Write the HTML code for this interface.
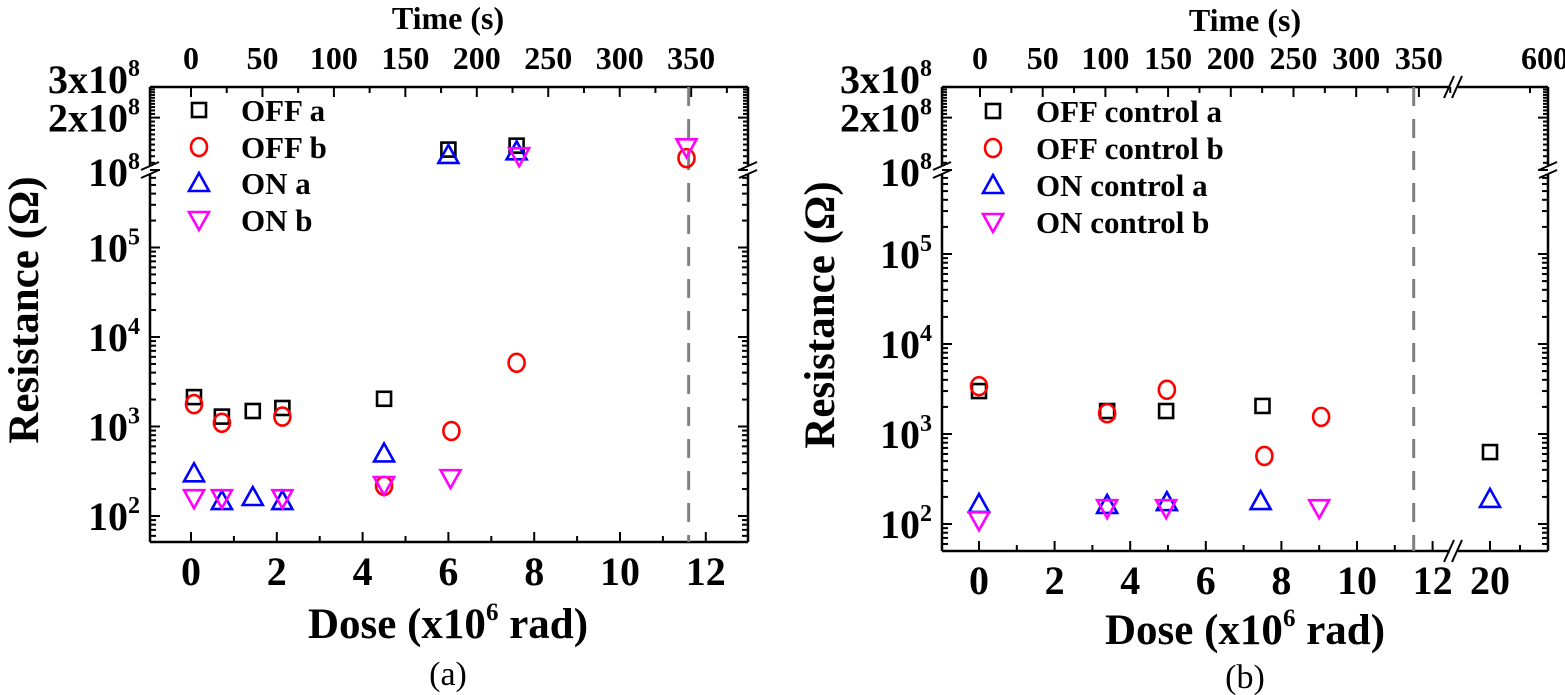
<!DOCTYPE html>
<html><head><meta charset="utf-8"><style>
html,body{margin:0;padding:0;background:#fff;}
svg{display:block;font-family:"Liberation Serif",serif;font-weight:bold;}
</style></head><body>
<svg id="c" width="1565" height="695" viewBox="0 0 1565 695" xmlns="http://www.w3.org/2000/svg"></svg>
<script>
// Panel (a) data: dose (x10^6 rad), resistance (ohm)
const aOffADose=[0.07,0.72,1.44,2.13,4.5,6.0,7.59];
const aOffARes=[2130,1290,1490,1610,2040,1.31e8,1.38e8];
const aOffBDose=[0.07,0.72,2.13,4.5,6.07,7.59,11.55];
const aOffBRes=[1780,1100,1290,217,890,5150,1.17e8];
const aOnADose=[0.07,0.72,1.44,2.13,4.5,6.0,7.59];
const aOnARes=[300,147,163,147,500,1.22e8,1.28e8];
const aOnBDose=[0.07,0.72,2.13,4.5,6.05,7.65,11.55];
const aOnBRes=[158,158,158,222,265,1.2e8,1.35e8];
// Panel (b) data
const bOffADose=[0,3.39,4.95,7.5,20];
const bOffARes=[3000,1800,1800,2050,630];
const bOffBDose=[0,3.39,4.97,7.55,9.05];
const bOffBRes=[3400,1700,3100,570,1550];
const bOnADose=[0,3.39,4.97,7.45,20];
const bOnARes=[167,163,175,180,190];
const bOnBDose=[0,3.39,4.95,9.0];
const bOnBRes=[110,150,150,150];
const doseTicksA=[0,2,4,6,8,10,12];
const doseTicksB=[0,2,4,6,8,10,12,20];
const timeTicksA=[0,50,100,150,200,250,300,350];
const timeTicksB=[0,50,100,150,200,250,300,350,600];

const NS="http://www.w3.org/2000/svg";
const svg=document.getElementById('c');
function el(tag,attrs,parent){const e=document.createElementNS(NS,tag);for(const k in attrs)e.setAttribute(k,attrs[k]);(parent||svg).appendChild(e);return e;}

const P={
 a:{L:150,R:748,T:87,B:542,brk:170,x0:191,kx:42.9,t0:191,kt:1.429,y2:516,ky:89.5,dash:11.6,cx:448},
 b:{L:942,R:1548,T:87,B:551,brk:170,x0:979,kx:37.8,t0:980,kt:1.254,y2:524,ky:90,dash:11.5,cx:1245,xbrk:1454}
};
function X(p,d){ if(p.xbrk && d>15) return 1490+(d-20)*30; return p.x0+d*p.kx; }
function T(p,t){ if(p.xbrk && t>400) return 1545+(t-600)*0.6; return p.t0+t*p.kt; }
function Y(p,v){ const l=Math.log10(v); if(l>=7.9) return p.brk-(l-8)*174; return p.y2-(l-2)*p.ky; }

function marker(g,type,x,y,name){
  let e;
  if(type==='sq'){e=el('rect',{x:x-7,y:y-7,width:14,height:14,fill:'none',stroke:'#000','stroke-width':2.6},g);}
  else if(type==='ci'){e=el('ellipse',{cx:x,cy:y,rx:8,ry:9,fill:'none',stroke:'#f00','stroke-width':2.6},g);}
  else if(type==='up'){e=el('polygon',{points:`${x},${y-10} ${x-10},${y+8} ${x+10},${y+8}`,fill:'none',stroke:'#00f','stroke-width':2.6},g);}
  else {e=el('polygon',{points:`${x},${y+10} ${x-10},${y-8} ${x+10},${y-8}`,fill:'none',stroke:'#f0f','stroke-width':2.6},g);}
  
  
  return e;
}
function txt(x,y,s,size,anchor,parent,name){
  const t=el('text',{x:x,y:y,'font-size':size,'text-anchor':anchor||'middle',fill:'#000'},parent);
  t.innerHTML=s;
  
  
  return t;
}

function panel(key){
  const p=P[key];
  const g=el('g',{});
  
  
  const ax=el('g',{stroke:'#000','stroke-width':2.5,fill:'none'},g);
  
  
  el('line',{x1:p.L,y1:p.T,x2:p.L,y2:p.brk-4},ax);
  el('line',{x1:p.L,y1:p.brk+4,x2:p.L,y2:p.B},ax);
  el('line',{x1:p.R,y1:p.T,x2:p.R,y2:p.brk-4},ax);
  el('line',{x1:p.R,y1:p.brk+4,x2:p.R,y2:p.B},ax);
  if(p.xbrk){
    el('line',{x1:p.L,y1:p.B,x2:p.xbrk-4,y2:p.B},ax);el('line',{x1:p.xbrk+4,y1:p.B,x2:p.R,y2:p.B},ax);
    el('line',{x1:p.L,y1:p.T,x2:p.xbrk-4,y2:p.T},ax);el('line',{x1:p.xbrk+4,y1:p.T,x2:p.R,y2:p.T},ax);
    [p.T,p.B].forEach(yy=>{[-5,3].forEach(o=>el('line',{x1:p.xbrk+o-5,y1:yy+11,x2:p.xbrk+o+5,y2:yy-11,'stroke-width':2},ax));});
  } else {
    el('line',{x1:p.L,y1:p.B,x2:p.R,y2:p.B},ax);el('line',{x1:p.L,y1:p.T,x2:p.R,y2:p.T},ax);
  }
  [p.L,p.R].forEach(xx=>{[-4,4].forEach(o=>el('line',{x1:xx-9,y1:p.brk+o+4,x2:xx+9,y2:p.brk+o-4,'stroke-width':2},ax));});
  const yt=el('g',{stroke:'#000','stroke-width':2},g);
  
  
  for(let d=1;d<=5;d++)for(let m=1;m<=9;m++){
    const v=m*Math.pow(10,d);const y=Y(p,v);
    if(y>p.B||y<p.brk+6)continue;
    const len=m===1?10:6;
    el('line',{x1:p.L,y1:y,x2:p.L+len,y2:y},yt);el('line',{x1:p.R,y1:y,x2:p.R-len,y2:y},yt);
  }
  for(let v=1e8;v<=3.05e8;v+=0.1e8){
    const y=Y(p,v);const maj=Math.abs(v/1e8-Math.round(v/1e8))<0.01;const len=maj?10:5;
    el('line',{x1:p.L,y1:y,x2:p.L+len,y2:y},yt);el('line',{x1:p.R,y1:y,x2:p.R-len,y2:y},yt);
  }
  const ly=el('g',{},g);
  
  
  [2,3,4,5].forEach(d=>txt(p.L-10,Y(p,Math.pow(10,d))+14,`10<tspan dy="-17" font-size="24">${d}</tspan>`,40,'end',ly,'y-label-1e'+d));
  txt(p.L-10,Y(p,1e8)+16,'10<tspan dy="-17" font-size="24">8</tspan>',40,'end',ly,'y-label-1e8');
  txt(p.L-10,Y(p,2e8)+14,'2x10<tspan dy="-17" font-size="24">8</tspan>',40,'end',ly,'y-label-2e8');
  txt(p.L-10,Y(p,3e8)+6,'3x10<tspan dy="-17" font-size="24">8</tspan>',40,'end',ly,'y-label-3e8');
  const xt=el('g',{stroke:'#000','stroke-width':2},g);
  
  
  for(let d=0;d<=12;d++){const x=X(p,d);el('line',{x1:x,y1:p.B,x2:x,y2:p.B-(d%2?6:10)},xt);}
  if(p.xbrk){el('line',{x1:X(p,20),y1:p.B,x2:X(p,20),y2:p.B-10},xt);el('line',{x1:X(p,21),y1:p.B,x2:X(p,21),y2:p.B-6},xt);}
  const dt=key==='a'?doseTicksA:doseTicksB;
  dt.forEach(d=>txt(X(p,d),p.B+43,String(d),40,'middle',g,'x-tick-label-'+d));
  for(let t=0;t<=375;t+=25){const x=T(p,t);if(x>=p.R-2)continue;el('line',{x1:x,y1:p.T,x2:x,y2:p.T+(t%50?6:10)},xt);}
  if(p.xbrk){el('line',{x1:T(p,575),y1:p.T,x2:T(p,575),y2:p.T+6},xt);}
  const tt=key==='a'?timeTicksA:timeTicksB;
  tt.forEach(t=>txt(T(p,t),p.T-18,String(t),32,'middle',g,'time-tick-label-'+t));
  txt(p.cx,key==='a'?29:31,'Time (s)',32,'middle',g,'top-x-axis-title');
  const dl=el('line',{x1:X(p,p.dash),y1:p.T,x2:X(p,p.dash),y2:p.B,stroke:'#808080','stroke-width':3,'stroke-dasharray':'19 13'},g);
  
  
  txt(p.cx,(key==='a'?638:644),'Dose (x10<tspan dy="-18" font-size="25">6</tspan><tspan dy="18"> rad)</tspan>',43,'middle',g,'x-axis-title');
  const yc=key==='a'?310:315, xc=key==='a'?38:834;
  const yttl=txt(xc,yc,'Resistance (Ω)',43,'middle',g,'y-axis-title');
  yttl.setAttribute('transform',`rotate(-90 ${xc} ${yc})`);
  const cap=txt(p.cx,(key==='a'?685:688),key==='a'?'(a)':'(b)',34,'middle',g,'panel-caption');
  cap.setAttribute('font-weight','normal');
  return {p,g};
}

const A=panel('a'), B=panel('b');
function series(pp,dose,res,type,name){
  const g=el('g',{},pp.g);
  
  
  dose.forEach((d,i)=>marker(g,type,X(pp.p,d),Y(pp.p,res[i]),name+'-point'));
}
series(A,aOffADose,aOffARes,'sq','series-off-a');
series(A,aOffBDose,aOffBRes,'ci','series-off-b');
series(A,aOnADose,aOnARes,'up','series-on-a');
series(A,aOnBDose,aOnBRes,'dn','series-on-b');
series(B,bOffADose,bOffARes,'sq','series-off-control-a');
series(B,bOffBDose,bOffBRes,'ci','series-off-control-b');
series(B,bOnADose,bOnARes,'up','series-on-control-a');
series(B,bOnBDose,bOnBRes,'dn','series-on-control-b');

function legend(pp,sx,tx,ys,labels){
  const g=el('g',{},pp.g);
  
  
  const types=['sq','ci','up','dn'];
  labels.forEach((l,i)=>{marker(g,types[i],sx,ys[i],'legend-symbol');txt(tx,ys[i]+11,l,31,'start',g,'legend-entry');});
}
legend(A,199,241,[110,147,183,220],['OFF a','OFF b','ON a','ON b']);
legend(B,993,1036,[111,148,185,222],['OFF control a','OFF control b','ON control a','ON control b']);
</script>
</body></html>
